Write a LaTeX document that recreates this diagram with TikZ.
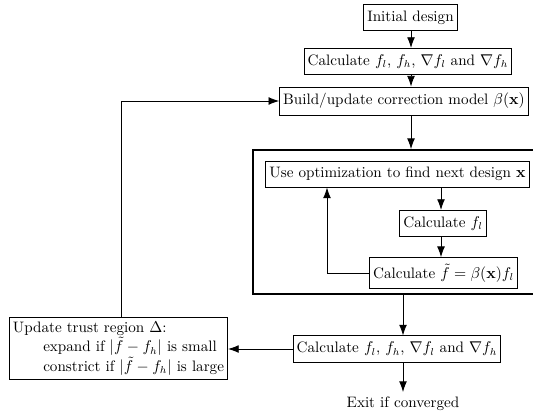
\documentclass[tikz,border=0pt]{standalone}
\usetikzlibrary{arrows.meta,fit}
\begin{document}
\begin{tikzpicture}[x=0.7pt,y=-0.7pt,
  box/.style={draw,line width=0.6pt,inner xsep=2.5pt,inner ysep=4.3pt,font=\fontsize{10.6}{13.6}\selectfont},
  arr/.style={line width=0.6pt,-{Latex[length=7.5pt,width=5.5pt]}},
  ln/.style={line width=0.6pt}]
\useasboundingbox (0,0) rectangle (533,415);
\clip (0,0) rectangle (533,415);
\node[box] (init) at (410.5,17.5) {Initial design};
\node[box] (calc1) at (408,61.5) {Calculate $f_l$, $f_h$, $\nabla f_l$ and $\nabla f_h$};
\node[box] (build) at (404,101) {Build/update correction model $\beta(\mathbf{x})$};
\coordinate (c1) at (253,150);
\coordinate (c2) at (560,294);
\node[draw,line width=1.2pt,inner sep=0pt,fit=(c1)(c2)] (cont) {};
\node[box] (useopt) at (397.5,174) {Use optimization to find next design $\mathbf{x}$};
\node[box] (calcfl) at (443,223.5) {Calculate $f_l$};
\node[box] (calcft) at (443.5,273) {Calculate $\tilde{f}=\beta(\mathbf{x})f_l$};
\node[box] (calc2) at (397,349) {Calculate $f_l$, $f_h$, $\nabla f_l$ and $\nabla f_h$};
\node[box,align=left,inner ysep=3pt] (upd) at (118.5,348.5) {Update trust region $\Delta$:\\
  \hspace*{2em}expand if $|\tilde{f}-f_h|$ is small\\
  \hspace*{2em}constrict if $|\tilde{f}-f_h|$ is large};
\node[font=\fontsize{10.6}{13.6}\selectfont] (exit) at (403,404) {Exit if converged};
\coordinate (mx) at (411,0);
\coordinate (ix) at (441,0);
\coordinate (bx) at (403,0);
\coordinate (fx) at (327,0);
\coordinate (ux) at (121,0);
\draw[arr] (init.south -| mx) -- (calc1.north -| mx);
\draw[arr] (calc1.south -| mx) -- (build.north -| mx);
\draw[arr] (build.south -| mx) -- (cont.north -| mx);
\draw[arr] (useopt.south -| ix) -- (calcfl.north -| ix);
\draw[arr] (calcfl.south -| ix) -- (calcft.north -| ix);
\draw[arr] (calcft.west) -| (useopt.south -| fx);
\draw[arr] (cont.south -| bx) -- (calc2.north -| bx);
\draw[arr] (calc2.west) -- (calc2.west -| upd.east);
\draw[arr] (calc2.south -| bx) -- (exit.north -| bx);
\draw[arr] (upd.north -| ux) |- (build.west);
\end{tikzpicture}
\end{document}
